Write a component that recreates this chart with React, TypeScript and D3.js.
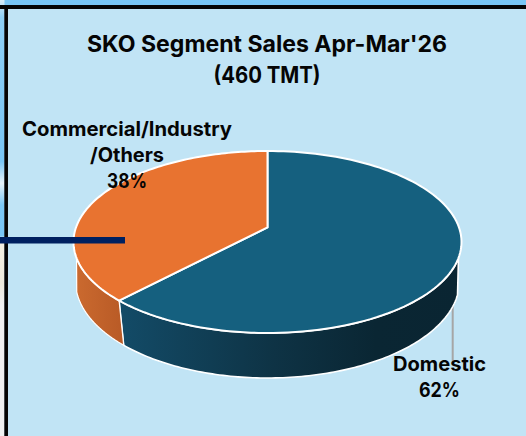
import React from "react";
import * as d3 from "d3";

const categories = ["Domestic", "Commercial/Industry/Others"];
const shares = [62, 38];
const sliceColors = ["#15607f", "#e87330"];
const titleLines = ["SKO Segment Sales Apr-Mar'26", "(460 TMT)"];
const domesticLabel = ["Domestic", "62%"];
const otherLabel = ["Commercial/Industry", "/Others", "38%"];

const titleWidths = [360, 107];
const domesticWidths = [93, 41];
const otherWidths = [210, 74, 40];

const W = 526, H = 436;
const top = { cx: 267.5, cy: 242, rx: 194, ry: 91 };
const bottom = { cx: 267.5, cy: 281, rx: 192, ry: 97 };
const tilt = -0.16;

type Ell = typeof top;
// projective view of the pie's circle, so the centre sits behind the ellipse centre
const project = (theta: number, e: Ell, r = 1): [number, number] => {
  const u = r * Math.sin(theta), v = -r * Math.cos(theta);
  const d = 1 + tilt * v;
  return [e.cx + (e.rx * u * Math.sqrt(1 - tilt * tilt)) / d, e.cy + (e.ry * (v + tilt)) / d];
};
const line = d3.line();
const sample = (a: number, b: number, e: Ell) =>
  d3.range(0, 121).map((i) => project(a + ((b - a) * i) / 120, e));

const pie = d3.pie<number>().sort(null).value((d) => d);
const arcs = pie(shares);
const TAU = Math.PI * 2;

const slicePath = (a: number, b: number) =>
  line([project(0, top, 0), ...sample(a, b, top)])! + "Z";

// screen-space angle of the points where the rim meets the wall silhouette
const thetaAtY = (y: number, side: 1 | -1, e: Ell) => {
  const ys = d3.range(0, 2001).map((i) => (i / 2000) * Math.PI);
  const t = ys.reduce((best, c) =>
    Math.abs(project(c, e)[1] - y) < Math.abs(project(best, e)[1] - y) ? c : best, ys[0]);
  return side === 1 ? t : TAU - t;
};
const tR = thetaAtY(258, 1, top), tL = thetaAtY(258, -1, top);
const bR = thetaAtY(295, 1, bottom), bL = thetaAtY(292, -1, bottom);
const seam = arcs[0].endAngle;
const seamBottom = seam - 0.022;

const wallPath = (ta: number, tb: number, ba: number, bb: number) =>
  line([...sample(ta, tb, top), ...sample(bb, ba, bottom)])! + "Z";

export default function App() {
  return (
    <svg
      width={W}
      height={H}
      viewBox={`0 0 ${W} ${H}`}
      style={{ position: "absolute", left: 0, top: 0, display: "block" }}
      fontFamily="Inter, 'Open Sans', sans-serif"
      fontWeight={700}
    >
      <defs>
        <linearGradient id="blueWall" gradientUnits="userSpaceOnUse" x1="121" x2="461" y1="0" y2="0">
          <stop offset="0" stopColor="#134b67" />
          <stop offset="0.45" stopColor="#0e3345" />
          <stop offset="0.75" stopColor="#0a2633" />
          <stop offset="1" stopColor="#0a2532" />
        </linearGradient>
        <linearGradient id="orangeWall" gradientUnits="userSpaceOnUse" x1="75" x2="124" y1="0" y2="0">
          <stop offset="0" stopColor="#cb6a2f" />
          <stop offset="1" stopColor="#b85a26" />
        </linearGradient>
        <linearGradient id="leftStrip" x1="0" x2="0" y1="0" y2="1">
          <stop offset="0" stopColor="#d8eefa" />
          <stop offset="0.04" stopColor="#8fd0f6" />
          <stop offset="0.37" stopColor="#79c6f5" />
          <stop offset="0.42" stopColor="#e6f3fa" />
          <stop offset="0.47" stopColor="#7cc7f4" />
          <stop offset="0.54" stopColor="#79c6f5" />
          <stop offset="0.55" stopColor="#f6f1e2" />
          <stop offset="0.65" stopColor="#ece9dc" />
          <stop offset="0.7" stopColor="#f0f1f2" />
          <stop offset="1" stopColor="#f0f1f2" />
        </linearGradient>
      </defs>
      <rect width={W} height={H} fill="#c1e4f5" />
      <rect width={W} height={6} fill="#79c6f5" />
      <rect width={4.5} height={H} fill="url(#leftStrip)" />
      <rect y={5} width={W} height={4} fill="#050505" />
      <rect x={4.3} y={5} width={3.7} height={H - 5} fill="#050505" />

      <line x1={452.7} x2={452.7} y1={292} y2={362} stroke="#a6a6a6" strokeWidth={2} />

      <path d={wallPath(tR, seam, bR, seamBottom)} fill="url(#blueWall)" stroke="#fff" strokeWidth={1.6} strokeLinejoin="round" />
      <path d={wallPath(seam, tL, seamBottom, bL)} fill="url(#orangeWall)" stroke="#fff" strokeWidth={1.2} strokeLinejoin="round" />
      {arcs.map((a, i) => (
        <path
          key={categories[i]}
          d={slicePath(a.startAngle, a.endAngle)}
          fill={sliceColors[i]}
          stroke="#fff"
          strokeWidth={2}
          strokeLinejoin="round"
        />
      ))}

      <rect x={0} y={237} width={125} height={6.5} fill="#002060" />

      <g textAnchor="middle" fill="#050505">
        {titleLines.map((t, i) => (
          <text key={t} x={267} y={52 + i * 31} fontSize={22.8} textLength={titleWidths[i]} lengthAdjust="spacingAndGlyphs">{t}</text>
        ))}
        {otherLabel.map((t, i) => (
          <text key={t} x={127} y={136 + i * 26} fontSize={19.8} textLength={otherWidths[i]} lengthAdjust="spacingAndGlyphs">{t}</text>
        ))}
        {domesticLabel.map((t, i) => (
          <text key={t} x={439.5} y={371 + i * 26} fontSize={19.8} textLength={domesticWidths[i]} lengthAdjust="spacingAndGlyphs">{t}</text>
        ))}
      </g>
    </svg>
  );
}
